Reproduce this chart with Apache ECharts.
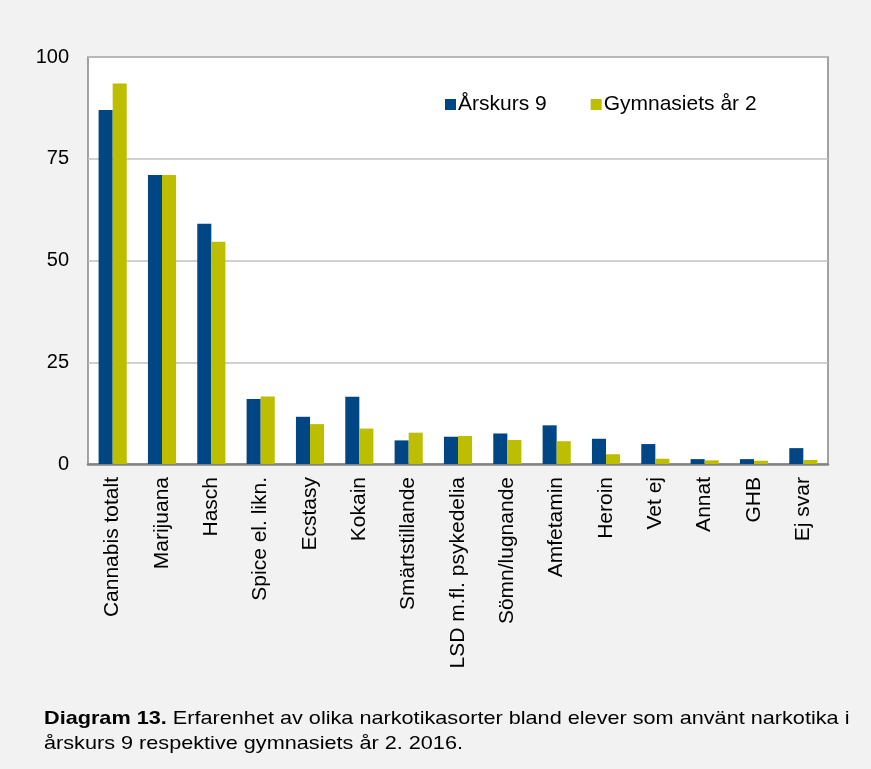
<!DOCTYPE html>
<html>
<head>
<meta charset="utf-8">
<script src="https://cdn.jsdelivr.net/npm/echarts@6/dist/echarts.min.js"></script>
<style>
html,body{margin:0;padding:0;background:#f2f2f2;}
#c{width:871px;height:769px;}
</style>
</head>
<body>
<div id="c"></div>
<script>
const categories = ['Cannabis totalt','Marijuana','Hasch','Spice el. likn.','Ecstasy','Kokain','Smärtstillande','LSD m.fl. psykedelia','Sömn/lugnande','Amfetamin','Heroin','Vet ej','Annat','GHB','Ej svar'];
const arskurs9 = [87, 71, 59, 16, 11.6, 16.5, 5.8, 6.7, 7.5, 9.5, 6.2, 4.9, 1.2, 1.2, 3.9];
const gymnasiet2 = [93.5, 71, 54.6, 16.6, 9.8, 8.7, 7.7, 6.9, 5.9, 5.6, 2.4, 1.3, 0.9, 0.8, 1.0];
const yTicks = [0, 25, 50, 75, 100];
const seriesNames = ['Årskurs 9', 'Gymnasiets år 2'];
const captionBold = 'Diagram 13.';
const captionLine1 = ' Erfarenhet av olika narkotikasorter bland elever som använt narkotika i';
const captionLine2 = 'årskurs 9 respektive gymnasiets år 2. 2016.';

const chart = echarts.init(document.getElementById('c'), null, {renderer:'canvas'});
const font = 'Liberation Sans, Arial, sans-serif';
chart.setOption({
  backgroundColor: '#f2f2f2',
  animation: false,
  textStyle: {fontFamily: font},
  grid: {left: 88, right: 43, top: 57, bottom: 305, show: true, backgroundColor: '#ffffff', borderColor: '#878787', borderWidth: 1.5},
  legend: {
    data: seriesNames,
    left: 440, top: 89,
    itemWidth: 11, itemHeight: 11, itemGap: 44,
    icon: 'rect',
    textStyle: {fontSize: 21, color: '#000', fontFamily: font, padding: [0,0,0,-3]}
  },
  xAxis: {
    type: 'category',
    data: categories,
    axisLine: {lineStyle: {color: '#828282', width: 2.5}},
    axisTick: {show: false},
    axisLabel: {rotate: 90, fontSize: 21, color: '#000', margin: 13, interval: 0, fontFamily: font}
  },
  yAxis: {
    type: 'value', min: yTicks[0], max: yTicks[yTicks.length-1], interval: 25,
    axisLine: {show: false},
    axisTick: {show: false},
    axisLabel: {fontSize: 20, color: '#000', margin: 19, fontFamily: font},
    splitLine: {lineStyle: {color: '#c0c0c0', width: 1.5}}
  },
  series: [
    {name: seriesNames[0], type: 'bar', data: arskurs9, barGap: '0%', barCategoryGap: '43%', itemStyle: {color: '#004584'}},
    {name: seriesNames[1], type: 'bar', data: gymnasiet2, itemStyle: {color: '#bebe00'}}
  ],
  graphic: [
    {type: 'text', x: 44, y: 709, scaleX: 1.14, style: {
      rich: {
        b: {fontWeight: 'bold', fontSize: 19, fontFamily: font, fill: '#000'},
        n: {fontSize: 19, fontFamily: font, fill: '#000'}
      },
      text: '{b|' + captionBold + '}{n|' + captionLine1 + '}'
    }},
    {type: 'text', x: 44, y: 734, scaleX: 1.14, style: {text: captionLine2, fontSize: 19, fontFamily: font, fill: '#000'}}
  ]
});
</script>
</body>
</html>
